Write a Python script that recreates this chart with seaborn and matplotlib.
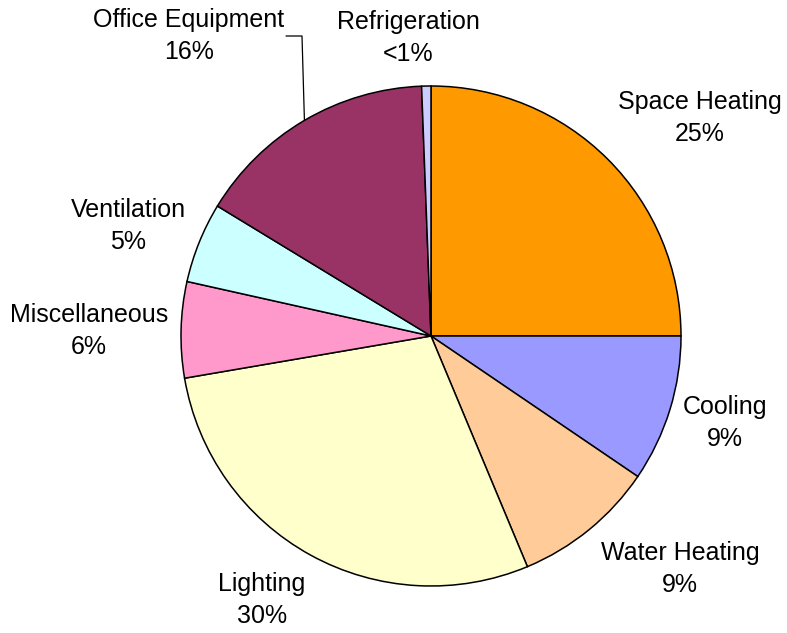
import numpy as np
import seaborn as sns
import matplotlib.pyplot as plt

categories = ["Space Heating", "Cooling", "Water Heating", "Lighting",
              "Miscellaneous", "Ventilation", "Office Equipment", "Refrigeration"]
shares = [25.0, 9.5, 9.2, 28.6, 6.2, 5.2, 15.7, 0.6]
pct_labels = ["25%", "9%", "9%", "30%", "6%", "5%", "16%", "<1%"]
colors = ["#FF9900", "#9999FF", "#FFCC99", "#FFFFCC",
          "#FF99CC", "#CCFFFF", "#993366", "#CCCCFF"]

sns.set_theme(style="white")
plt.rcParams["font.family"] = ["Liberation Sans", "DejaVu Sans"]

W, H = 787, 633
cx, cy, R = 431, 336, 250  # pie centre and radius in pixels


def to_data(px, py):
    return (px - cx) / R, (cy - py) / R


fig = plt.figure(figsize=(W / 100, H / 100), dpi=100)
ax = fig.add_axes([0, 0, 1, 1])

wedges, _ = ax.pie(shares, colors=colors, startangle=90, counterclock=False,
                   wedgeprops=dict(edgecolor="black", linewidth=1.1))

ax.set_xlim(-cx / R, (W - cx) / R)
ax.set_ylim(-(H - cy) / R, cy / R)
ax.set_aspect("auto")
ax.axis("off")

# label centres (pixels in the reference picture)
label_pos = [(700, 118), (725, 423), (680, 569), (262, 600),
             (89, 331), (128, 226), (189, 36), (408, 38)]

for name, pct, (px, py) in zip(categories, pct_labels, label_pos):
    x, y = to_data(px, py)
    ax.text(x, y, f"{name}\n{pct}", ha="center", va="center",
            fontsize=18, linespacing=1.45, color="black")

# leader line for Office Equipment
w = wedges[6]
mid = np.deg2rad((w.theta1 + w.theta2) / 2)
ex, ey = np.cos(mid), np.sin(mid)
kx, ky = to_data(302, 36)
tx, _ = to_data(286, 36)
ax.plot([ex, kx, tx], [ey, ky, ky], color="black", linewidth=0.9)

fig.savefig("out.png", dpi=100)
